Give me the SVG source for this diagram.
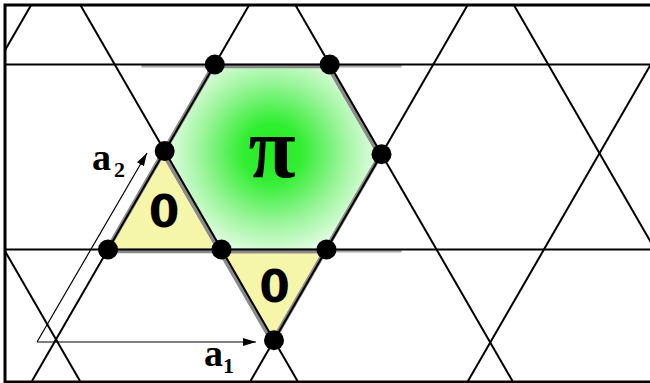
<svg xmlns="http://www.w3.org/2000/svg" width="650" height="383" viewBox="0 0 650 383">
<style>
.lat{stroke:#000;stroke-width:2;fill:none}
.sh{stroke:#8a8a8a;stroke-width:4.5;fill:none;stroke-linejoin:round}
.band{stroke:#a8a8a8;stroke-width:3;fill:none}
.dot{fill:#000}
.zero{font-family:"DejaVu Sans",sans-serif;font-weight:bold;font-size:44px;fill:#000;text-anchor:middle}
.vec{font-family:"Liberation Serif",serif;font-weight:bold;fill:#000}
.arr{stroke:#000;stroke-width:1.2;fill:none}
</style>
<defs>
<radialGradient id="glow" gradientUnits="userSpaceOnUse" cx="272" cy="152" r="118">
<stop offset="0" stop-color="#1fec1f"/>
<stop offset="0.25" stop-color="#33ee33"/>
<stop offset="0.6" stop-color="#9af59a"/>
<stop offset="1" stop-color="#ffffff"/>
</radialGradient>
<clipPath id="frame"><rect x="5" y="5" width="650" height="377"/></clipPath>
<marker id="ah" markerWidth="14" markerHeight="10" refX="13" refY="5" orient="auto" markerUnits="userSpaceOnUse">
<path d="M0,1 L13,5 L0,9 Z" fill="#000"/>
</marker>
</defs>
<rect width="650" height="383" fill="#fff"/>
<g id="hexagon">
<polygon points="214.8,64.5 329.7,64.5 381.5,154.2 326.5,249.5 221.5,249.5 164.7,151.1" fill="url(#glow)"/>
</g>
<g id="triangle-left">
<polygon points="164.7,151.1 108,249.5 221.5,249.5" fill="#f6f6aa"/>
</g>
<g id="triangle-bottom">
<polygon points="221.5,249.5 326.5,249.5 274,340.3" fill="#f6f6aa"/>
</g>
<g id="shadows" transform="translate(-1.5,1.5)">
<line class="band" x1="143" y1="64.5" x2="403" y2="64.5"/>
<line class="band" x1="143" y1="249.5" x2="403" y2="249.5"/>
<polygon class="sh" points="214.8,64.5 329.7,64.5 381.5,154.2 326.5,249.5 221.5,249.5 164.7,151.1"/>
<polygon class="sh" points="164.7,151.1 108,249.5 221.5,249.5"/>
<polygon class="sh" points="221.5,249.5 326.5,249.5 274,340.3"/>
</g>
<g id="connectors" clip-path="url(#frame)">
<line class="lat" x1="0" y1="64.5" x2="650" y2="64.5"/>
<line class="lat" x1="0" y1="249.5" x2="650" y2="249.5"/>
<line class="lat" x1="34" y1="0" x2="-186" y2="381"/>
<line class="lat" x1="252" y1="0" x2="32" y2="381"/>
<line class="lat" x1="470.5" y1="0" x2="250.5" y2="381"/>
<line class="lat" x1="688" y1="0" x2="468" y2="381"/>
<line class="lat" x1="-140" y1="0" x2="80" y2="381"/>
<line class="lat" x1="77.5" y1="0" x2="297.5" y2="381"/>
<line class="lat" x1="292.5" y1="0" x2="512.5" y2="381"/>
<line class="lat" x1="511" y1="0" x2="731" y2="381"/>
</g>
<g id="vectors">
<line class="arr" x1="37" y1="342" x2="256" y2="342" marker-end="url(#ah)"/>
<line class="arr" x1="37" y1="342" x2="147" y2="153" marker-end="url(#ah)"/>
</g>
<g id="frame-border">
<path d="M652,5 H5 V382 H652" fill="none" stroke="#000" stroke-width="3"/>
</g>
<g id="sites">
<circle class="dot" cx="214.8" cy="64.5" r="10"/>
<circle class="dot" cx="329.7" cy="64.5" r="10"/>
<circle class="dot" cx="381.5" cy="154.2" r="10"/>
<circle class="dot" cx="326.5" cy="249.5" r="10"/>
<circle class="dot" cx="221.5" cy="249.5" r="10"/>
<circle class="dot" cx="164.7" cy="151.1" r="10"/>
<circle class="dot" cx="108" cy="249.5" r="10"/>
<circle class="dot" cx="274" cy="340.3" r="10"/>
</g>
<g id="labels">
<text x="272" y="177" font-family="Liberation Serif, serif" font-weight="bold" font-size="86" text-anchor="middle" fill="#000">π</text>
<text class="zero" x="164" y="227">0</text>
<text class="zero" x="274.5" y="302">0</text>
<text class="vec" x="92" y="170" font-size="38">a</text>
<text class="vec" x="114" y="177" font-size="22">2</text>
<text class="vec" x="204" y="366" font-size="38">a</text>
<text class="vec" x="223" y="373" font-size="22">1</text>
</g>
</svg>
